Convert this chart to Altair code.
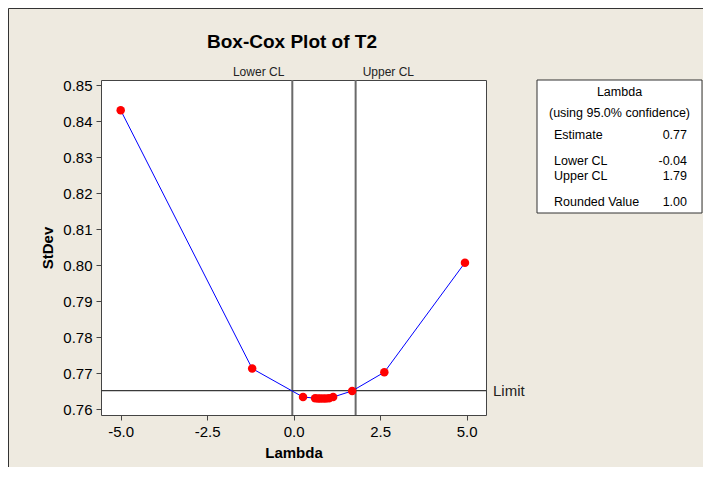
import altair as alt
import pandas as pd

# ---- data ----
lambdas = [-5.0, -1.20, 0.27, 0.62, 0.70, 0.77, 0.85, 0.93, 1.02, 1.14, 1.69, 2.62, 4.95]
stdevs = [0.8430, 0.7713, 0.7634, 0.7631, 0.7630, 0.7630, 0.7630, 0.7630, 0.7631, 0.7634, 0.7651, 0.7703, 0.8007]
cl_names = ["Lower CL", "Upper CL"]
cl_values = [-0.04, 1.79]
limit_value = [0.7652]
limit_label = "Limit"
x_ticks = [-5.0, -2.5, 0.0, 2.5, 5.0]
y_ticks = [0.76, 0.77, 0.78, 0.79, 0.80, 0.81, 0.82, 0.83, 0.84, 0.85]
title_text = "Box-Cox Plot of T2"
legend_header = ["Lambda", "(using 95.0% confidence)"]
legend_labels = ["Estimate", "Lower CL", "Upper CL", "Rounded Value"]
legend_values = ["0.77", "-0.04", "1.79", "1.00"]

FONT = "Liberation Sans"
W, H = 385, 335
PAD = {"left": 93, "top": 72, "right": 217, "bottom": 52}

df = pd.DataFrame({"lambda": lambdas, "stdev": stdevs})
cl_df = pd.DataFrame({"cl": cl_values, "name": cl_names})
lim_df = pd.DataFrame({"limit": limit_value, "label": [limit_label]})
one = pd.DataFrame({"a": [0]})

xs = alt.Scale(domain=[-5.569, 5.558], nice=False, zero=False)
ys = alt.Scale(domain=[0.75842, 0.85139], nice=False, zero=False)
x_axis = alt.Axis(
    values=x_ticks, title="Lambda",
    labelExpr="datum.value < 0 ? '-' + format(-datum.value, '.1f') : format(datum.value, '.1f')")
y_axis = alt.Axis(values=y_ticks, format=".2f", title="StDev")


def X(f):
    return alt.X(f, type="quantitative", scale=xs, axis=x_axis)


def Y(f):
    return alt.Y(f, type="quantitative", scale=ys, axis=y_axis)


frame_left = alt.Chart(one).mark_rule(color="#333333", strokeWidth=1).encode(
    x=alt.value(-92.5), y=alt.value(-71.5), y2=alt.value(H + PAD["bottom"]))
frame_top = alt.Chart(one).mark_rule(color="#333333", strokeWidth=1).encode(
    x=alt.value(-92.5), x2=alt.value(W + PAD["right"]), y=alt.value(-71.5))

legend_box = alt.Chart(one).mark_rect(fill="white", stroke="#333333", strokeWidth=1).encode(
    x=alt.value(436), x2=alt.value(601), y=alt.value(0), y2=alt.value(133))

cl_rules = alt.Chart(cl_df).mark_rule(color="#6a6a6a", strokeWidth=2).encode(
    x=X("cl"), y=alt.value(0), y2=alt.value(H))

limit_rule = alt.Chart(lim_df).mark_rule(color="#3a3a3a", strokeWidth=1.2).encode(
    y=Y("limit"), x=alt.value(0), x2=alt.value(W))

line = alt.Chart(df).mark_line(color="#0000FF", strokeWidth=1).encode(
    x=X("lambda"), y=Y("stdev"), order="lambda:Q")

points = alt.Chart(df).mark_circle(color="#FF0000", opacity=1, size=72).encode(
    x=X("lambda"), y=Y("stdev"))

lower_txt = alt.Chart(cl_df.iloc[[0]]).mark_text(
    align="right", baseline="middle", dx=-8, font=FONT, fontSize=12, color="#222222").encode(
    x=X("cl"), y=alt.value(-8), text="name:N")
upper_txt = alt.Chart(cl_df.iloc[[1]]).mark_text(
    align="left", baseline="middle", dx=7, font=FONT, fontSize=12, color="#222222").encode(
    x=X("cl"), y=alt.value(-8), text="name:N")

limit_txt = alt.Chart(lim_df).mark_text(
    align="left", baseline="middle", font=FONT, fontSize=15, color="#222222").encode(
    x=alt.value(W + 7), y=Y("limit"), text="label:N")

title = alt.Chart(one).mark_text(
    align="center", baseline="middle", font=FONT, fontSize=19, fontWeight="bold", color="black").encode(
    x=alt.value(191), y=alt.value(-38), text=alt.value(title_text))

legend_layers = []
header_y = [12, 33]
for txt, yy in zip(legend_header, header_y):
    legend_layers.append(alt.Chart(one).mark_text(
        align="center", baseline="middle", font=FONT, fontSize=12.5, color="black").encode(
        x=alt.value(518.5), y=alt.value(yy), text=alt.value(txt)))
row_y = [55, 81, 96, 122]
for lab, val, yy in zip(legend_labels, legend_values, row_y):
    legend_layers.append(alt.Chart(one).mark_text(
        align="left", baseline="middle", font=FONT, fontSize=12.5, color="black").encode(
        x=alt.value(453), y=alt.value(yy), text=alt.value(lab)))
    legend_layers.append(alt.Chart(one).mark_text(
        align="right", baseline="middle", font=FONT, fontSize=12.5, color="black").encode(
        x=alt.value(586), y=alt.value(yy), text=alt.value(val)))

chart = alt.layer(
    frame_left, frame_top, legend_box, cl_rules, limit_rule, line, points,
    lower_txt, upper_txt, limit_txt, title, *legend_layers
).properties(
    width=W, height=H, padding=PAD, background="#EEEAE0",
    autosize=alt.AutoSizeParams(type="none")
).configure_view(
    fill="white", stroke="#444444", strokeWidth=1
).configure_axis(
    domain=False, grid=False, tickColor="#444444", tickSize=5, tickWidth=1,
    labelFont=FONT, labelFontSize=15, labelColor="black", labelPadding=4,
    titleFont=FONT, titleFontSize=15, titleFontWeight="bold", titleColor="black"
).configure_axisX(titlePadding=6).configure_axisY(titlePadding=7)

chart.save("out.html", embed_options={"renderer": "svg", "actions": False})
